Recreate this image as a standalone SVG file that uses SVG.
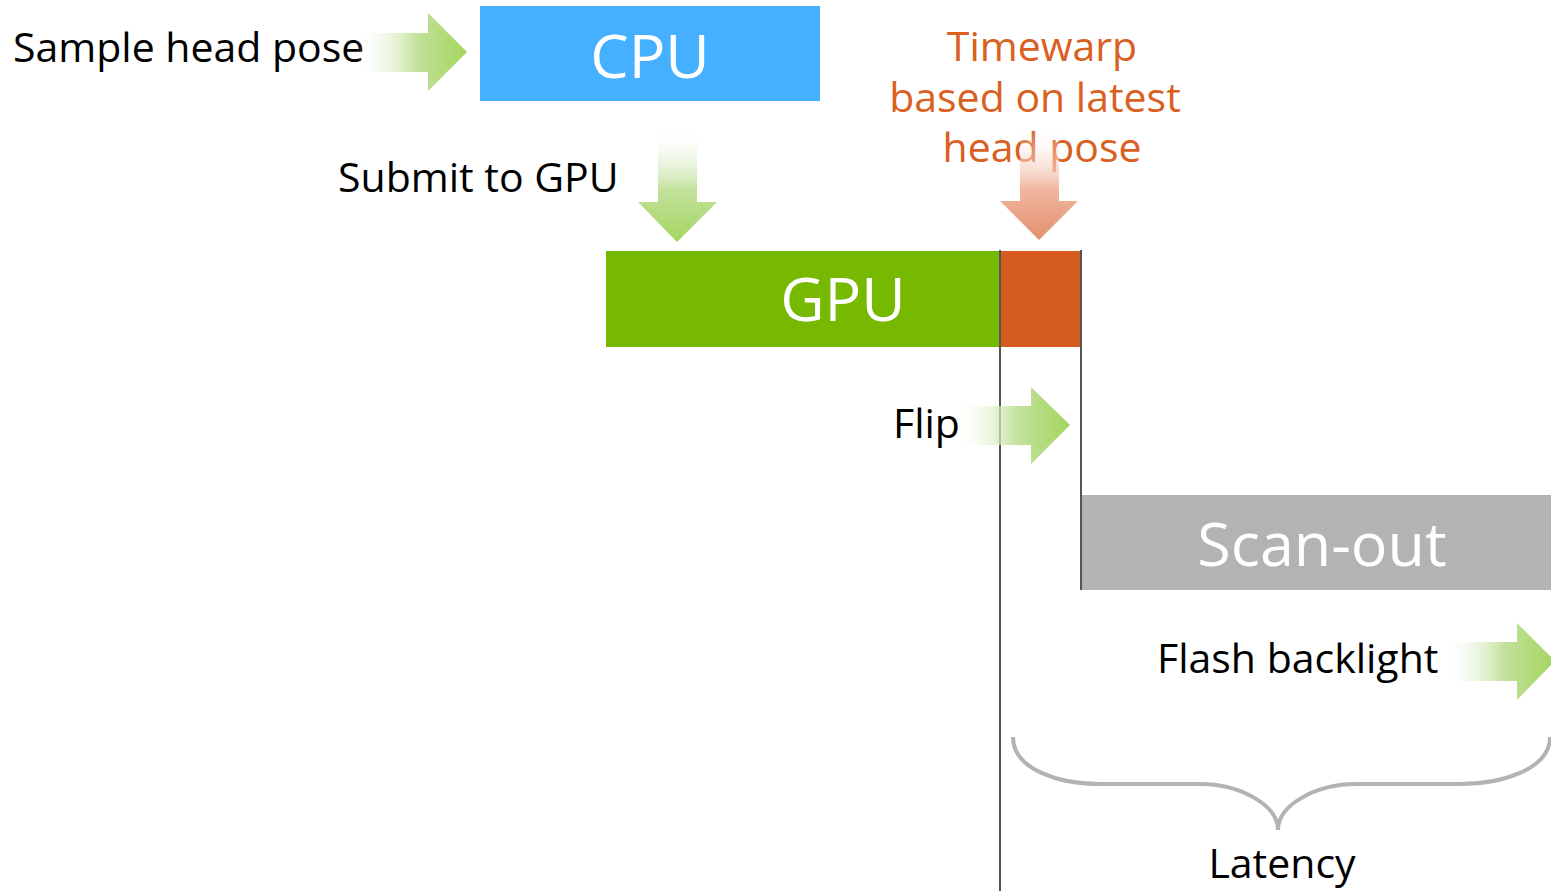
<svg xmlns="http://www.w3.org/2000/svg" width="1551" height="891" viewBox="0 0 1551 891">
  <defs>
    <linearGradient id="gH" x1="0" y1="0" x2="1" y2="0">
      <stop offset="0" stop-color="#ffffff" stop-opacity="0"/>
      <stop offset="0.55" stop-color="#c2e19c"/>
      <stop offset="1" stop-color="#a4d55e"/>
    </linearGradient>
    <linearGradient id="gV" x1="0" y1="0" x2="0" y2="1">
      <stop offset="0" stop-color="#ffffff" stop-opacity="0"/>
      <stop offset="0.55" stop-color="#c2e19c"/>
      <stop offset="1" stop-color="#a4d55e"/>
    </linearGradient>
    <linearGradient id="gO" x1="0" y1="0" x2="0" y2="1">
      <stop offset="0" stop-color="#ffffff" stop-opacity="0"/>
      <stop offset="0.55" stop-color="#f0b79f"/>
      <stop offset="1" stop-color="#e4906d"/>
    </linearGradient>
    <style>
      text { font-family: "Open Sans", "DejaVu Sans", sans-serif; }
      .lbl { font-size: 41px; fill: #000; }
      .big { font-size: 61px; fill: #fff; text-anchor: middle; }
      .tw { font-size: 41px; fill: #d9601f; text-anchor: middle; }
      .vline { stroke: #555; stroke-width: 2; fill: none; }
    </style>
  </defs>

  <!-- Stage boxes -->
  <g id="cpu">
    <rect x="480" y="6" width="340" height="95" fill="#45b0ff"/>
    <text class="big" x="650" y="78">CPU</text>
  </g>
  <g id="gpu">
    <rect x="606" y="251" width="394" height="96" fill="#76b900"/>
    <text class="big" x="843" y="321">GPU</text>
  </g>
  <g id="timewarp-block">
    <rect x="1000" y="251" width="81" height="96" fill="#d55b1e"/>
  </g>
  <g id="scanout">
    <rect x="1081" y="495" width="470" height="95" fill="#b3b3b3"/>
    <text class="big" x="1322" y="566">Scan-out</text>
  </g>

  <!-- Timing lines -->
  <g id="timing-lines">
    <line class="vline" x1="1000" y1="250" x2="1000" y2="891"/>
    <line class="vline" x1="1081" y1="250" x2="1081" y2="590"/>
  </g>

  <!-- Labels -->
  <g id="labels">
    <text class="lbl" x="13" y="62">Sample head pose</text>
    <text class="lbl" x="338" y="192">Submit to GPU</text>
    <text class="lbl" x="893" y="438">Flip</text>
    <text class="lbl" x="1157" y="673">Flash backlight</text>
    <text class="lbl" x="1282" y="878" text-anchor="middle">Latency</text>
    <text class="tw" x="1042" y="61">Timewarp</text>
    <text class="tw" x="1035" y="112">based on latest</text>
    <text class="tw" x="1042" y="162">head pose</text>
  </g>

  <!-- Connectors: block arrows and the latency brace -->
  <g id="connectors">
    <polygon fill="url(#gH)" points="355,33 428,33 428,13 467,52 428,91 428,72 355,72"/>
    <polygon fill="url(#gV)" points="658,127 697,127 697,202 717,202 677,242 638,202 658,202"/>
    <polygon fill="url(#gO)" points="1020,127 1059,127 1059,201 1078,201 1039,240 1000,201 1020,201"/>
    <polygon fill="url(#gH)" points="955,406 1031,406 1031,387 1070,425 1031,464 1031,445 955,445"/>
    <polygon fill="url(#gH)" points="1442,642 1517,642 1517,623 1555,661 1517,700 1517,681 1442,681"/>
    <path d="M1013,737 C1013,770 1060,784 1100,784 L1200,784 C1240,784 1278,805 1278,830 C1278,805 1316,784 1356,784 L1460,784 C1500,784 1550,770 1550,737" fill="none" stroke="#b3b3b3" stroke-width="4"/>
  </g>
</svg>
